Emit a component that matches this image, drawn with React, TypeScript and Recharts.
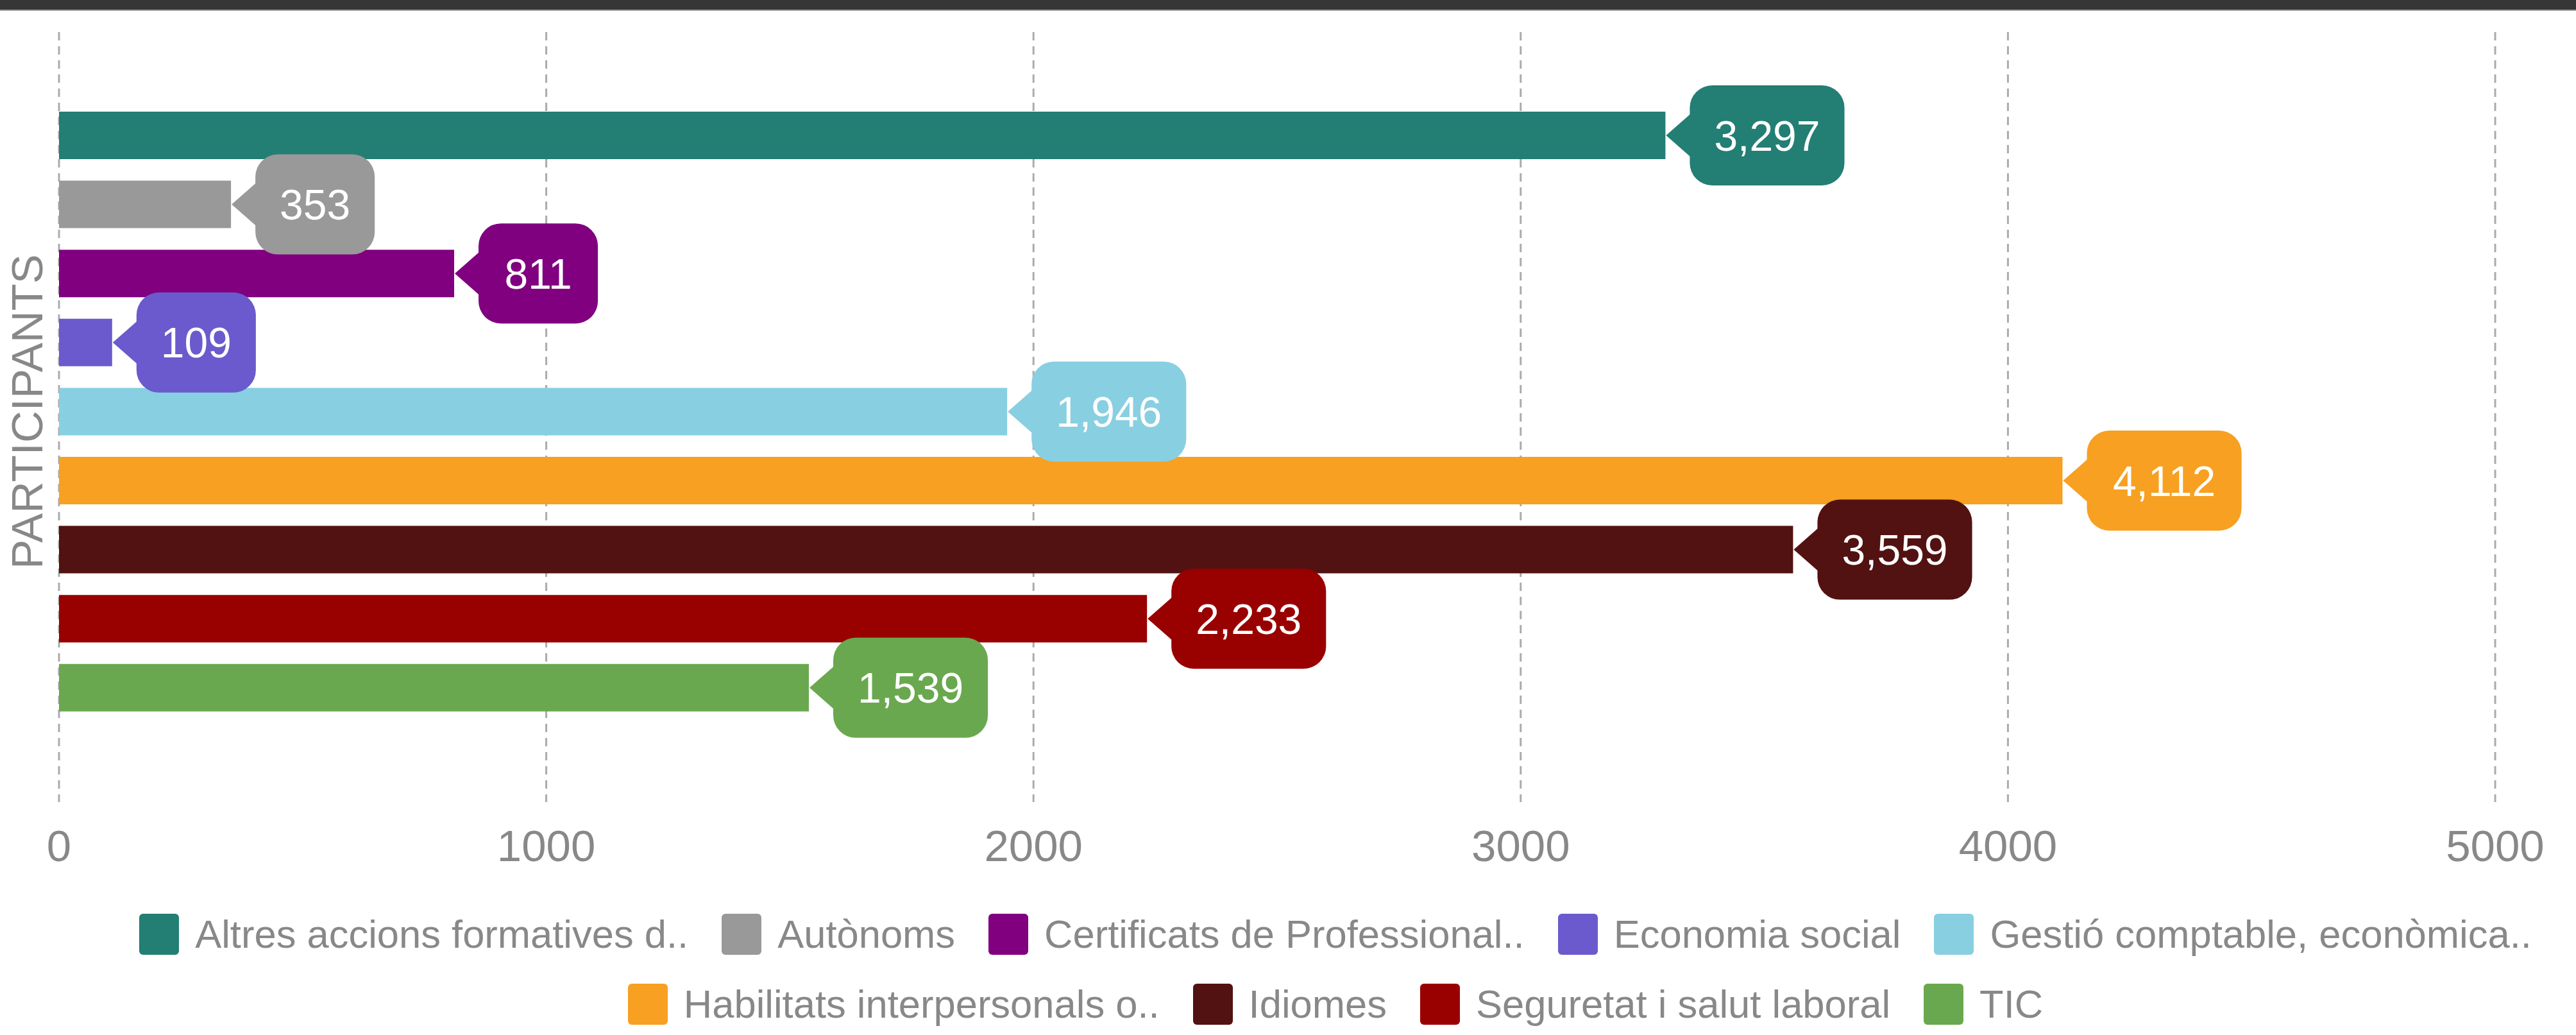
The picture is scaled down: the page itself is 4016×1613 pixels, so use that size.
import { BarChart, Bar, XAxis, YAxis, CartesianGrid, Legend, LabelList } from 'recharts';

const categories = ['PARTICIPANTS'];

const seriesNames = [
  'Altres accions formatives d..',
  'Autònoms',
  'Certificats de Professional..',
  'Economia social',
  'Gestió comptable, econòmica..',
  'Habilitats interpersonals o..',
  'Idiomes',
  'Seguretat i salut laboral',
  'TIC',
];

const seriesValues = [3297, 353, 811, 109, 1946, 4112, 3559, 2233, 1539];

const seriesColors = [
  '#237e74',
  '#999999',
  '#800080',
  '#6a5acd',
  '#88cfe1',
  '#f7a021',
  '#521211',
  '#990000',
  '#6aa84f',
];

const xTicks = [0, 1000, 2000, 3000, 4000, 5000];

const FONT = '"Liberation Sans", Arial, Helvetica, sans-serif';

const chartData = categories.map((name) => {
  const row: Record<string, string | number> = { name };
  seriesNames.forEach((_, i) => {
    row[`s${i}`] = seriesValues[i];
  });
  return row;
});

// callout bubble: arrow pointing at the end of the bar, rounded box with the value
const makeCallout = (color: string) => (props: any) => {
  const { x, y, width, height, value } = props;
  const text = Number(value).toLocaleString('en-US');
  const fontSize = 66;
  const textW = [...text].reduce((w, c) => w + (c === ',' ? 0.278 : 0.556), 0) * fontSize;
  const tip = Number(x) + Number(width) + 1;
  const cy = Number(y) + Number(height) / 2;
  const boxX = tip + 37;
  const boxW = textW + 76;
  const boxH = 156;
  return (
    <g>
      <polygon points={`${tip},${cy} ${boxX + 4},${cy - 36} ${boxX + 4},${cy + 36}`} fill={color} />
      <rect x={boxX} y={cy - boxH / 2} width={boxW} height={boxH} rx={35} ry={35} fill={color} />
      <text
        x={boxX + boxW / 2}
        y={cy + 0.358 * fontSize}
        textAnchor="middle"
        fill="#ffffff"
        fontSize={fontSize}
        fontFamily={FONT}
      >
        {text}
      </text>
    </g>
  );
};

const CategoryTick = ({ y, payload }: any) => (
  <text
    transform={`translate(66, ${y}) rotate(-90)`}
    textAnchor="middle"
    fill="#888888"
    fontSize={69}
    fontFamily={FONT}
  >
    {payload.value}
  </text>
);

const LegendContent = ({ payload }: any) => (
  <div style={{ height: 273, position: 'relative' }}>
    <div
      style={{
        position: 'absolute',
        left: 82,
        top: 61,
        width: 4000,
        display: 'flex',
        flexWrap: 'wrap',
        justifyContent: 'center',
      }}
    >
      {(payload || []).map((entry: any) => (
        <div
          key={entry.value}
          style={{ display: 'flex', alignItems: 'center', height: 109, margin: '0 26px' }}
        >
          <span
            style={{
              display: 'inline-block',
              width: 62,
              height: 64,
              background: entry.color,
              borderRadius: 6,
              marginRight: 25,
            }}
          />
          <span style={{ fontSize: 61.5, color: '#888888', fontFamily: FONT, whiteSpace: 'nowrap' }}>
            {entry.value}
          </span>
        </div>
      ))}
    </div>
  </div>
);

export default function App() {
  return (
    <div
      style={{
        position: 'absolute',
        left: 0,
        top: 0,
        width: 4016,
        height: 1613,
        background: '#ffffff',
        overflow: 'hidden',
      }}
    >
      <div
        style={{
          position: 'absolute',
          left: 0,
          top: 0,
          width: 4016,
          height: 15,
          background: '#363636',
          borderBottom: '2px solid #a0a0a0',
          zIndex: 2,
        }}
      />
      <BarChart
        width={4016}
        height={1613}
        data={chartData}
        layout="vertical"
        margin={{ top: 50, right: 126, bottom: 0, left: 0 }}
        barSize={74}
        barGap={33.6}
      >
        <CartesianGrid horizontal={false} stroke="#ababab" strokeWidth={3} strokeDasharray="13 9" />
        <XAxis
          type="number"
          domain={[0, 5000]}
          ticks={xTicks}
          axisLine={false}
          tickLine={false}
          tickSize={0}
          tickMargin={43}
          height={90}
          tick={{ fill: '#888888', fontSize: 69, fontFamily: FONT }}
        />
        <YAxis
          type="category"
          dataKey="name"
          width={92}
          axisLine={false}
          tickLine={false}
          padding={{ top: 0, bottom: 17 }}
          tick={<CategoryTick />}
        />
        <Legend
          verticalAlign="bottom"
          wrapperStyle={{ left: 0, width: 4016 }}
          content={<LegendContent />}
        />
        {seriesNames.map((name, i) => (
          <Bar
            key={name}
            dataKey={`s${i}`}
            name={name}
            fill={seriesColors[i]}
            isAnimationActive={false}
          >
            <LabelList dataKey={`s${i}`} content={makeCallout(seriesColors[i])} />
          </Bar>
        ))}
      </BarChart>
    </div>
  );
}
